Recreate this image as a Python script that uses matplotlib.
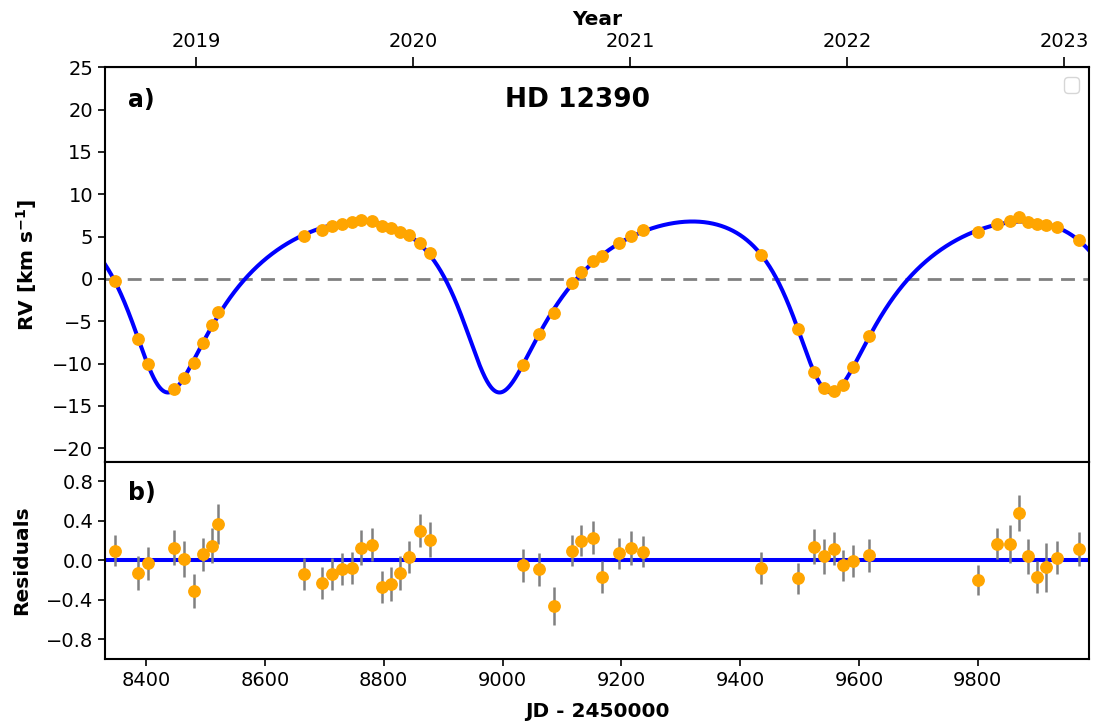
import numpy as np
import matplotlib
matplotlib.use("Agg")
import matplotlib.pyplot as plt

# ---- data (JD - 2450000) ----
jd = [8347.8, 8386.0, 8402.8, 8447.7, 8464.5, 8480.3, 8495.4, 8511.0, 8521.8,
      8666.0, 8695.8, 8713.0, 8730.5, 8746.3, 8762.0, 8781.0, 8796.7, 8812.0,
      8827.0, 8842.8, 8861.8, 8877.6,
      9034.2, 9062.2, 9086.4, 9117.2, 9132.9, 9152.0, 9168.2, 9195.8, 9216.0,
      9237.2, 9435.4, 9496.5, 9525.0, 9541.4, 9557.7, 9572.2, 9590.2, 9617.2,
      9800.0, 9832.0, 9854.5, 9869.7, 9884.3, 9898.8, 9914.0, 9933.7, 9970.7]
rv = [-0.25, -7.05, -10.1, -13.0, -11.65, -9.97, -7.6, -5.48, -3.95,
      5.1, 5.8, 6.24, 6.5, 6.67, 6.95, 6.87, 6.24, 5.96,
      5.6, 5.25, 4.3, 3.05,
      -10.12, -6.5, -4.07, -0.53, 0.85, 2.15, 2.66, 4.27, 5.06,
      5.77, 2.77, -5.96, -10.98, -12.9, -13.2, -12.5, -10.4, -6.78,
      5.53, 6.55, 6.87, 7.3, 6.78, 6.5, 6.43, 6.08, 4.58]
resid = [0.10, -0.13, -0.03, 0.13, 0.015, -0.31, 0.06, 0.15, 0.37,
         -0.14, -0.23, -0.14, -0.09, -0.08, 0.13, 0.16, -0.27, -0.24,
         -0.13, 0.035, 0.30, 0.21,
         -0.05, -0.09, -0.46, 0.10, 0.20, 0.23, -0.17, 0.07, 0.13,
         0.09, -0.08, -0.18, 0.14, 0.04, 0.12, -0.05, -0.01, 0.05,
         -0.20, 0.17, 0.17, 0.48, 0.04, -0.17, -0.07, 0.025, 0.115]
err = [0.155, 0.17, 0.17, 0.18, 0.18, 0.17, 0.17, 0.18, 0.20,
       0.16, 0.16, 0.165, 0.16, 0.163, 0.18, 0.17, 0.165, 0.168,
       0.173, 0.16, 0.168, 0.178,
       0.167, 0.165, 0.195, 0.16, 0.158, 0.165, 0.165, 0.158, 0.172,
       0.153, 0.16, 0.157, 0.174, 0.174, 0.165, 0.16, 0.162, 0.165,
       0.153, 0.158, 0.192, 0.185, 0.18, 0.165, 0.25, 0.168, 0.172]

# ---- Keplerian orbit parameters ----
P_orb = 558.0
ecc = 0.35
T_peri = 8422.5
gamma = 0.0
K_amp = 10.10
omega_deg = 159.6

year_ticks = [2019, 2020, 2021, 2022, 2023]
rv_ticks = [-20, -15, -10, -5, 0, 5, 10, 15, 20, 25]
res_ticks = [-0.8, -0.4, 0.0, 0.4, 0.8]
jd_ticks = [8400, 8600, 8800, 9000, 9200, 9400, 9600, 9800]

def kepler_rv(t):
    t = np.asarray(t, dtype=float)
    M = np.mod(2 * np.pi * (t - T_peri) / P_orb, 2 * np.pi)
    E = M + 0.85 * ecc * np.sign(np.sin(M))
    for _ in range(40):
        E = E - (E - ecc * np.sin(E) - M) / (1 - ecc * np.cos(E))
    nu = 2 * np.arctan2(np.sqrt(1 + ecc) * np.sin(E / 2), np.sqrt(1 - ecc) * np.cos(E / 2))
    w = np.radians(omega_deg)
    return gamma + K_amp * (np.cos(nu + w) + ecc * np.cos(w))

def jd2year(x):
    return 2000.0 + (np.asarray(x) + 2450000.0 - 2451544.5) / 365.25

def year2jd(y):
    return (np.asarray(y) - 2000.0) * 365.25 + 2451544.5 - 2450000.0

plt.rcParams['font.family'] = ['DejaVu Sans']
plt.rcParams['font.size'] = 14
plt.rcParams['xtick.labelsize'] = 14
plt.rcParams['ytick.labelsize'] = 14
plt.rcParams['xtick.major.size'] = 5
plt.rcParams['ytick.major.size'] = 5
plt.rcParams['xtick.major.width'] = 1.2
plt.rcParams['ytick.major.width'] = 1.2

fig = plt.figure(figsize=(10.96, 7.28), dpi=100)
gs = fig.add_gridspec(2, 1, height_ratios=[2, 1], hspace=0,
                      left=0.0958, right=0.9936, top=0.9075, bottom=0.0948)
ax1 = fig.add_subplot(gs[0])
ax2 = fig.add_subplot(gs[1], sharex=ax1)

xlim = (8331, 9987)
tt = np.linspace(xlim[0], xlim[1], 4000)

ax1.plot(tt, kepler_rv(tt), color='blue', lw=2.9, zorder=2)
ax1.axhline(0, color='gray', ls='--', lw=2, dashes=(5, 3), zorder=1)
ax1.plot(jd, rv, 'o', color='orange', ms=8.2, zorder=3)
ax1.set_ylim(-21.6, 25)
ax1.set_yticks(rv_ticks)
ax1.set_ylabel(r'RV [km s$^{\mathbf{-1}}$]', fontweight='bold', fontsize=14.5, labelpad=9.5)
ax1.tick_params(labelbottom=False)
ax1.text(0.023, 0.918, 'a)', transform=ax1.transAxes, fontsize=17, fontweight='bold',
         ha='left', va='center')
ax1.text(0.48, 0.916, 'HD 12390', transform=ax1.transAxes, fontsize=19, fontweight='bold',
         ha='center', va='center')
ax1.legend(handles=[], loc='upper right')

sec = ax1.secondary_xaxis('top', functions=(jd2year, year2jd))
sec.set_xticks(year_ticks)
sec.tick_params(axis='x', length=7, pad=5)
sec.set_xlabel('Year', fontweight='bold', fontsize=14.5, labelpad=5)

ax2.axhline(0, color='blue', lw=2.9, zorder=1)
ax2.errorbar(jd, resid, yerr=err, fmt='o', color='orange', ms=8.2,
             ecolor='gray', elinewidth=1.8, capsize=0, zorder=3)
ax2.set_ylim(-1, 1)
ax2.set_yticks(res_ticks)
ax2.set_ylabel('Residuals', fontweight='bold', fontsize=14.5, labelpad=10.5)
ax2.set_xlabel('JD - 2450000', fontweight='bold', fontsize=14.5, labelpad=9)
ax2.set_xticks(jd_ticks)
ax2.set_xlim(*xlim)
ax2.text(0.023, 0.84, 'b)', transform=ax2.transAxes, fontsize=17, fontweight='bold',
         ha='left', va='center')

for ax in (ax1, ax2):
    for s in ax.spines.values():
        s.set_linewidth(1.5)

fig.savefig("out.png", dpi=100)
